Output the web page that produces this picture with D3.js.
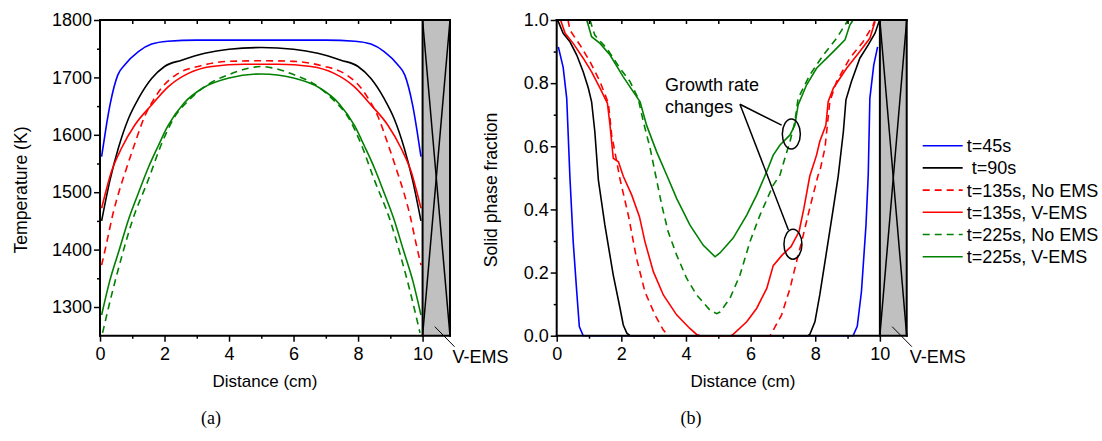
<!DOCTYPE html>
<html>
<head>
<meta charset="utf-8">
<script src="https://cdn.jsdelivr.net/npm/d3@7"></script>
<style>
body { margin: 0; background: #fff; }
svg text { font-family: "Liberation Sans", Arial, sans-serif; }
</style>
</head>
<body>
<svg id="chart" width="1102" height="441"></svg>
<script>
// Tick values and labels.
var distTicks = [0, 2, 4, 6, 8, 10];
var distMinor = [1, 3, 5, 7, 9];
var distTop = [1, 2, 3, 4, 5, 6, 7, 8, 9];
var tempTicks = [1300, 1400, 1500, 1600, 1700, 1800];
var tempMinor = [1350, 1450, 1550, 1650, 1750];
var fracTicks = [0, 0.2, 0.4, 0.6, 0.8, 1.0];
var fracMinor = [0.1, 0.3, 0.5, 0.7, 0.9];
var legendLabels = ["t=45s", " t=90s", "t=135s, No EMS", "t=135s, V-EMS", "t=225s, No EMS", "t=225s, V-EMS"];

// Panel (a): temperature (K) vs distance (cm).
var temp45 = [[0.05,1562],[0.18,1610],[0.31,1652],[0.55,1704],[0.77,1722],[1.19,1745],[1.6,1758],[2.1,1763],[3,1765],[5,1765],
	[7,1765],[7.9,1763],[8.4,1758],[8.81,1745],[9.23,1722],[9.45,1704],[9.69,1652],[9.82,1610],[9.95,1562]];
var temp90 = [[0.05,1450],[0.31,1521],[0.57,1577],[0.88,1628],[1.19,1663],[1.6,1698],[2.0,1719],[2.53,1730],[3.25,1742],[4.0,1749],[5,1752],
	[6,1749],[6.75,1742],[7.47,1730],[8.0,1719],[8.4,1698],[8.81,1663],[9.12,1628],[9.43,1577],[9.69,1521],[9.95,1450]];
var temp135No = [[0.05,1373],[0.2,1410],[0.4,1462],[0.6,1503],[0.8,1538],[1.08,1585],[1.4,1634],[1.65,1660],[1.9,1681],[2.4,1706],[3.1,1720],[4,1728],[5,1729],
	[6,1728],[6.9,1720],[7.6,1706],[8.1,1681],[8.35,1660],[8.6,1634],[8.92,1585],[9.2,1538],[9.4,1503],[9.6,1462],[9.8,1410],[9.95,1373]];
var temp135V = [[0.05,1472],[0.2,1505],[0.35,1535],[0.67,1577],[1.08,1617],[1.6,1652],[2.12,1684],[2.74,1707],[3.46,1719],[4.49,1723],[5,1723],
	[5.51,1723],[6.54,1719],[7.26,1707],[7.88,1684],[8.4,1652],[8.92,1617],[9.33,1577],[9.65,1535],[9.8,1505],[9.95,1472]];
var temp225No = [[0.08,1255],[0.4,1330],[0.7,1393],[1.0,1450],[1.5,1522],[1.9,1583],[2.3,1630],[2.75,1660],[3.35,1688],[4.0,1705],[4.6,1716],[5.0,1719],
	[5.4,1716],[6.0,1705],[6.65,1688],[7.25,1660],[7.7,1630],[8.1,1583],[8.5,1522],[9.0,1450],[9.3,1393],[9.6,1330],[9.92,1255]];
var temp225V = [[0.05,1286],[0.3,1345],[0.6,1400],[0.9,1455],[1.2,1500],[1.5,1543],[1.8,1580],[2.1,1615],[2.6,1655],[3.2,1682],[4.0,1699],[5.0,1706],
	[6.0,1699],[6.8,1682],[7.4,1655],[7.9,1615],[8.2,1580],[8.5,1543],[8.8,1500],[9.1,1455],[9.4,1400],[9.7,1345],[9.95,1286]];

// Panel (b): solid phase fraction vs distance (cm).
var frac45 = [[0.05,0.915],[0.2,0.85],[0.31,0.752],[0.41,0.50],[0.51,0.298],[0.62,0.139],[0.70,0.029],[0.82,0.0],
	[9.17,0.0],[9.30,0.03],[9.43,0.14],[9.57,0.35],[9.64,0.51],[9.69,0.752],[9.81,0.857],[9.93,0.915]];
var frac90 = [[0.0,1.0],[0.05,0.995],[0.2,0.958],[0.41,0.931],[0.62,0.889],[0.82,0.836],[0.98,0.784],[1.08,0.741],[1.18,0.646],[1.29,0.493],
	[1.49,0.351],[1.75,0.192],[1.96,0.087],[2.06,0.034],[2.17,0.008],[2.27,0],[7.78,0],[7.83,0.004],[7.99,0.044],[8.14,0.129],
	[8.35,0.266],[8.56,0.404],[8.71,0.505],[8.87,0.646],[8.95,0.747],[9.12,0.805],[9.38,0.879],[9.64,0.921],[9.85,0.958],[9.98,0.997]];
var frac135No = [[0.35,1.0],[0.41,0.968],[0.72,0.921],[1.03,0.868],[1.34,0.805],[1.6,0.736],[1.70,0.636],[1.8,0.583],[1.95,0.50],
	[2.22,0.38],[2.47,0.245],[2.73,0.139],[3.04,0.066],[3.30,0.018],[3.45,0],[6.6,0],[6.65,0.008],[6.96,0.066],[7.22,0.150],
	[7.42,0.234],[7.63,0.319],[7.83,0.404],[8.09,0.509],[8.14,0.52],[8.3,0.594],[8.45,0.741],[8.66,0.805],[9.07,0.879],
	[9.48,0.931],[9.79,0.984],[9.85,1.0]];
var frac135V = [[0.12,1.0],[0.26,0.958],[0.51,0.926],[0.82,0.879],[1.08,0.836],[1.34,0.784],[1.57,0.736],[1.65,0.667],[1.75,0.562],
	[1.91,0.551],[2.06,0.505],[2.32,0.446],[2.56,0.377],[2.73,0.298],[2.99,0.203],[3.30,0.129],[3.71,0.066],[4.12,0.023],
	[4.33,0.004],[4.45,0],[5.4,0],[5.46,0.004],[5.88,0.044],[6.19,0.087],[6.5,0.150],[6.70,0.222],[6.98,0.256],[7.25,0.282],
	[7.5,0.33],[7.65,0.404],[7.83,0.505],[8.04,0.572],[8.14,0.615],[8.33,0.667],[8.4,0.741],[8.56,0.784],[8.97,0.847],
	[9.38,0.9],[9.69,0.942],[9.85,0.995]];
var frac225No = [[1.03,1.0],[1.18,0.952],[1.55,0.910],[1.96,0.847],[2.27,0.805],[2.52,0.752],[2.68,0.678],[2.89,0.594],[3.06,0.509],
	[3.25,0.414],[3.45,0.329],[3.71,0.256],[4.02,0.182],[4.33,0.129],[4.74,0.081],[4.95,0.07],[5.05,0.075],[5.36,0.118],
	[5.67,0.192],[5.98,0.298],[6.29,0.382],[6.70,0.477],[6.91,0.509],[7.06,0.562],[7.22,0.615],[7.37,0.678],[7.47,0.752],
	[7.83,0.826],[8.25,0.889],[8.66,0.942],[8.92,0.984],[9.02,1.0]];
var frac225V = [[0.1,1.0],[0.93,1.0],[1.08,0.947],[1.34,0.926],[1.65,0.889],[2.06,0.820],[2.58,0.741],[2.78,0.667],[3.09,0.583],
	[3.42,0.505],[3.71,0.435],[4.12,0.351],[4.53,0.287],[4.90,0.250],[5.05,0.262],[5.46,0.309],[5.88,0.382],[6.19,0.446],
	[6.5,0.52],[6.70,0.572],[6.91,0.604],[7.22,0.636],[7.37,0.667],[7.47,0.731],[7.73,0.794],[8.04,0.847],[8.56,0.9],
	[8.92,0.937],[9.07,0.984],[9.17,1.0],[9.9,1.0]];

// Annotation anchors in data units of panel (b).
var noteText = [[3.35, 0.774, "Growth rate"], [3.35, 0.704, "changes"]];
var noteFrom = [5.67, 0.733];
var noteTo = [[6.96, 0.667], [7.17, 0.335]];
var noteRings = [[7.26, 0.639], [7.31, 0.29]];

var colors = ["#0000ff", "#000000", "#ff0000", "#ff0000", "#008000", "#008000"];
var dashes = [null, null, "7,5", null, "7,5", null];
var font = '"Liberation Sans", Arial, sans-serif';

var svg = d3.select("#chart");
svg.append("rect").attr("width", 1102).attr("height", 441).attr("fill", "#fff");

var xA = d3.scaleLinear().domain([0, 10.85]).range([100, 450]);
var yA = d3.scaleLinear().domain([1250, 1800]).range([335.7, 20]);
var xB = d3.scaleLinear().domain([0, 10.83]).range([556.7, 906.7]);
var yB = d3.scaleLinear().domain([0, 1]).range([335.7, 20]);

function styleAxis(g) {
	g.select(".domain").remove();
	g.attr("font-size", 18).attr("font-family", font);
	g.selectAll("line").attr("stroke-width", 1.5);
}

function panel(x, y, curves, curveType, yTicks, yMinor, yFormat) {
	var yBot = y.range()[0], yTop = y.range()[1];
	var xLeft = x.range()[0], xRight = x.range()[1];

	// V-EMS block with its cross
	svg.append("rect")
		.attr("x", x(10)).attr("y", yTop)
		.attr("width", xRight - x(10)).attr("height", yBot - yTop)
		.attr("fill", "#c0c0c0");
	svg.append("line").attr("x1", x(10)).attr("y1", yTop).attr("x2", xRight).attr("y2", yBot)
		.attr("stroke", "#000").attr("stroke-width", 1.5);
	svg.append("line").attr("x1", xRight).attr("y1", yTop).attr("x2", x(10)).attr("y2", yBot)
		.attr("stroke", "#000").attr("stroke-width", 1.5);

	var line = d3.line()
		.x(function(d) { return x(d[0]); })
		.y(function(d) { return y(d[1]); })
		.curve(curveType);

	curves.forEach(function(c, i) {
		svg.append("path")
			.datum(c)
			.attr("d", line)
			.attr("fill", "none")
			.attr("stroke", colors[i])
			.attr("stroke-width", 1.6)
			.attr("stroke-dasharray", dashes[i]);
	});

	svg.append("g")
		.attr("transform", "translate(0," + yBot + ")")
		.call(d3.axisBottom(x).tickValues(distTicks).tickSize(6).tickPadding(6).tickFormat(d3.format("d")))
		.call(styleAxis);
	svg.append("g")
		.attr("transform", "translate(0," + yBot + ")")
		.call(d3.axisBottom(x).tickValues(distMinor).tickSize(3).tickFormat(""))
		.call(styleAxis);
	svg.append("g")
		.attr("transform", "translate(0," + yTop + ")")
		.call(d3.axisTop(x).tickValues(distTop).tickSize(-4).tickFormat(""))
		.call(styleAxis);
	svg.append("g")
		.attr("transform", "translate(" + xLeft + ",0)")
		.call(d3.axisLeft(y).tickValues(yTicks).tickSize(6).tickPadding(2).tickFormat(yFormat))
		.call(styleAxis);
	svg.append("g")
		.attr("transform", "translate(" + xLeft + ",0)")
		.call(d3.axisLeft(y).tickValues(yMinor).tickSize(3).tickFormat(""))
		.call(styleAxis);

	// frame
	var frame = [[xLeft, yTop, xRight, yTop], [xLeft, yBot, xRight, yBot], [xLeft, yTop, xLeft, yBot],
		[xRight, yTop, xRight, yBot], [x(10), yTop, x(10), yBot]];
	frame.forEach(function(f) {
		svg.append("line").attr("x1", f[0]).attr("y1", f[1]).attr("x2", f[2]).attr("y2", f[3])
			.attr("stroke", "#000").attr("stroke-width", 2).attr("stroke-linecap", "square");
	});

	// V-EMS label
	svg.append("line")
		.attr("x1", x(10.38)).attr("y1", yBot - 9)
		.attr("x2", x(10.99)).attr("y2", yBot + 11)
		.attr("stroke", "#000").attr("stroke-width", 1);
	svg.append("text")
		.attr("x", x(10.99) - 2).attr("y", yBot + 27)
		.attr("font-size", 18)
		.text("V-EMS");
}

panel(xA, yA, [temp45, temp90, temp135No, temp135V, temp225No, temp225V], d3.curveMonotoneX,
	tempTicks, tempMinor, d3.format("d"));
panel(xB, yB, [frac45, frac90, frac135No, frac135V, frac225No, frac225V], d3.curveLinear,
	fracTicks, fracMinor, d3.format(".1f"));

// axis titles
svg.append("text").attr("x", 265).attr("y", 387).attr("text-anchor", "middle").attr("font-size", 17).text("Distance (cm)");
svg.append("text").attr("x", 743).attr("y", 387).attr("text-anchor", "middle").attr("font-size", 17).text("Distance (cm)");
svg.append("text").attr("transform", "translate(27,190) rotate(-90)").attr("text-anchor", "middle")
	.attr("font-size", 17.6).text("Temperature (K)");
svg.append("text").attr("transform", "translate(497,190) rotate(-90)").attr("text-anchor", "middle")
	.attr("font-size", 17.6).text("Solid phase fraction");

// sub-figure labels
svg.append("text").attr("x", 211).attr("y", 424).attr("text-anchor", "middle").attr("font-size", 18)
	.style("font-family", '"Liberation Serif", "Times New Roman", serif').text("(a)");
svg.append("text").attr("x", 691).attr("y", 424).attr("text-anchor", "middle").attr("font-size", 18)
	.style("font-family", '"Liberation Serif", "Times New Roman", serif').text("(b)");

// legend
legendLabels.forEach(function(label, i) {
	var ly = 145.7 + i * 22.2;
	svg.append("line")
		.attr("x1", 922.7).attr("x2", 962.7).attr("y1", ly).attr("y2", ly)
		.attr("stroke", colors[i]).attr("stroke-width", 1.6)
		.attr("stroke-dasharray", dashes[i]);
	svg.append("text")
		.attr("x", 966.7).attr("y", ly + 6.5)
		.attr("font-size", 18)
		.style("white-space", "pre")
		.text(label);
});

// growth rate annotation
noteText.forEach(function(n) {
	svg.append("text").attr("x", xB(n[0])).attr("y", yB(n[1])).attr("font-size", 18).text(n[2]);
});
noteTo.forEach(function(n) {
	svg.append("line")
		.attr("x1", xB(noteFrom[0])).attr("y1", yB(noteFrom[1]))
		.attr("x2", xB(n[0])).attr("y2", yB(n[1]))
		.attr("stroke", "#000").attr("stroke-width", 1.5);
});
noteRings.forEach(function(n) {
	svg.append("ellipse")
		.attr("cx", xB(n[0])).attr("cy", yB(n[1]))
		.attr("rx", 9).attr("ry", 15)
		.attr("fill", "none").attr("stroke", "#000").attr("stroke-width", 1.5);
});
</script>
</body>
</html>
